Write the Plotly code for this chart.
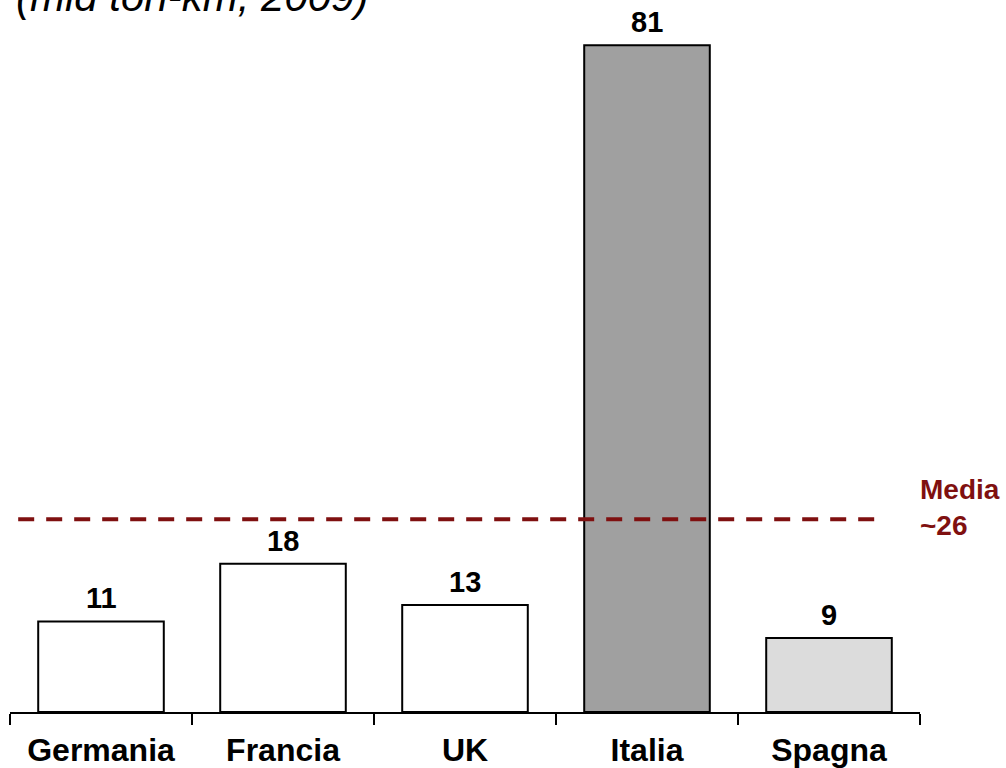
import plotly.graph_objects as go

categories = ["Germania", "Francia", "UK", "Italia", "Spagna"]
values = [11, 18, 13, 81, 9]
bar_colors = ["#FFFFFF", "#FFFFFF", "#FFFFFF", "#A0A0A0", "#DCDCDC"]
media_line = 23.4
media_label = "Media<br>~26"
title_text = "(mld ton-km, 2009)"

FONT = "Liberation Sans, Arial, sans-serif"
MAROON = "#7F1010"

fig = go.Figure()
fig.add_trace(go.Bar(
    x=categories, y=values,
    marker=dict(color=bar_colors, line=dict(color="black", width=2)),
    width=0.69,
    cliponaxis=False,
    hoverinfo="skip",
))

for c, v in zip(categories, values):
    fig.add_annotation(x=c, y=v, xref="x", yref="y", text="<b>%d</b>" % v,
                       showarrow=False, xanchor="center", yanchor="bottom",
                       yshift=5, font=dict(family=FONT, size=29, color="black"))

fig.add_shape(type="line", xref="paper", yref="y",
              x0=0.009, x1=0.95, y0=media_line, y1=media_line,
              line=dict(color=MAROON, width=4, dash="16px,12px"))
fig.add_annotation(xref="paper", yref="y", x=0.998, y=media_line,
                   text="<b>" + media_label + "</b>", showarrow=False,
                   xanchor="left", yanchor="middle", align="left", yshift=12,
                   font=dict(family=FONT, size=28, color=MAROON))
fig.add_annotation(xref="paper", yref="paper", x=0.0045, y=1.011,
                   text="<i>" + title_text + "</i>", showarrow=False,
                   xanchor="left", yanchor="middle",
                   font=dict(family=FONT, size=42, color="black"))

fig.update_layout(
    width=1006, height=768,
    margin=dict(l=10, r=86, t=4, b=56),
    plot_bgcolor="white", paper_bgcolor="white",
    showlegend=False,
    bargap=0.31,
    font=dict(family=FONT),
)
fig.update_xaxes(
    showline=True, linecolor="black", linewidth=2,
    ticks="outside", ticklen=11, tickwidth=1.5, tickcolor="black",
    tickson="boundaries", ticklabelstandoff=9, automargin=False,
    tickfont=dict(family=FONT, size=32, color="black"),
    tickprefix="<b>", ticksuffix="</b>",
    showgrid=False,
)
fig.update_yaxes(visible=False, range=[0, 86], showgrid=False, automargin=False)

fig.write_html("out.html", config={"displayModeBar": False},
               post_script="document.body.style.margin='0px';")
